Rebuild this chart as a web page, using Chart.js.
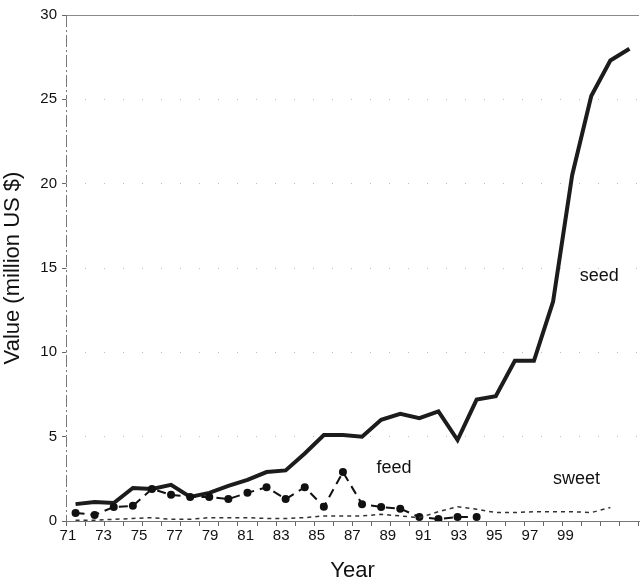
<!DOCTYPE html>
<html>
<head>
<meta charset="utf-8">
<script src="https://cdn.jsdelivr.net/npm/chart.js@4"></script>
<style>
  html, body { margin: 0; padding: 0; background: #fff; }
  #wrap { width: 643px; height: 584px; }
</style>
</head>
<body>
<div id="wrap"><canvas id="chart" width="643" height="584"></canvas></div>
<script>
"use strict"
// categories: years 1971-2000
var years = ['71', '72', '73', '74', '75', '76', '77', '78', '79', '80',
    '81', '82', '83', '84', '85', '86', '87', '88', '89', '90',
    '91', '92', '93', '94', '95', '96', '97', '98', '99', '100'];
// series, million US $
var seed = [1.0, 1.13, 1.07, 1.96, 1.9, 2.14, 1.43, 1.67, 2.08, 2.44,
    2.9, 3.0, 4.0, 5.1, 5.1, 5.0, 6.0, 6.35, 6.1, 6.5,
    4.8, 7.2, 7.4, 9.5, 9.5, 13.0, 20.5, 25.2, 27.3, 28.0];
var feed = [0.48, 0.36, 0.83, 0.9, 1.9, 1.55, 1.43, 1.43, 1.3, 1.67,
    2.0, 1.3, 2.0, 0.85, 2.9, 1.0, 0.83, 0.73, 0.24, 0.12,
    0.24, 0.24];
var sweet = [0.05, 0.05, 0.1, 0.15, 0.2, 0.1, 0.1, 0.2, 0.2, 0.2,
    0.15, 0.15, 0.2, 0.3, 0.3, 0.3, 0.4, 0.3, 0.2, 0.55,
    0.85, 0.7, 0.5, 0.5, 0.55, 0.55, 0.55, 0.5, 0.8];
// tick labels
var yearLabels = [71, 73, 75, 77, 79, 81, 83, 85, 87, 89, 91, 93, 95, 97, 99];
var valueTicks = [0, 5, 10, 15, 20, 25, 30];
// in-chart labels (category index, value)
var notes = [
    { text: 'seed', x: 26.4, y: 14.5 },
    { text: 'feed', x: 15.75, y: 3.15 },
    { text: 'sweet', x: 25.0, y: 2.5 }
];

var FONT = '"Liberation Sans", Arial, Helvetica, sans-serif';

var notesPlugin = {
    id: 'notes',
    beforeDraw: function(chart) {
        var ctx = chart.ctx, a = chart.chartArea;
        ctx.save();
        // frame line at 30
        ctx.strokeStyle = '#8a8a8a';
        ctx.lineWidth = 1;
        ctx.beginPath();
        var yTop = Math.round(chart.scales.y.getPixelForValue(30)) + 0.5;
        ctx.moveTo(a.left, yTop);
        ctx.lineTo(a.right, yTop);
        ctx.stroke();
        // dashed y axis line
        ctx.setLineDash([12, 3, 2, 3]);
        ctx.strokeStyle = '#777';
        ctx.beginPath();
        ctx.moveTo(a.left + 0.5, a.top);
        ctx.lineTo(a.left + 0.5, a.bottom);
        ctx.stroke();
        ctx.restore();
    },
    afterDatasetsDraw: function(chart) {
        var ctx = chart.ctx;
        var xs = chart.scales.x, ys = chart.scales.y;
        ctx.save();
        ctx.fillStyle = '#111';
        ctx.font = '18px ' + FONT;
        ctx.textAlign = 'left';
        ctx.textBaseline = 'middle';
        notes.forEach(function(n) {
            ctx.fillText(n.text, xs.getPixelForValue(n.x), ys.getPixelForValue(n.y));
        });
        ctx.restore();
    }
};

var ctx = document.getElementById('chart');
var chart = new Chart(ctx, {
    type: 'line',
    data: {
        labels: years,
        datasets: [{
            label: 'sweet',
            data: sweet,
            borderColor: '#333',
            borderWidth: 1.5,
            borderDash: [4, 4],
            pointRadius: 0,
            fill: false,
            tension: 0
        }, {
            label: 'feed',
            data: feed,
            borderColor: '#111',
            backgroundColor: '#111',
            borderWidth: 2,
            borderDash: [9, 6],
            pointRadius: 4,
            pointBorderWidth: 0,
            fill: false,
            tension: 0
        }, {
            label: 'seed',
            data: seed,
            borderColor: '#1c1c1c',
            borderWidth: 4,
            pointRadius: 0,
            fill: false,
            tension: 0
        }]
    },
    options: {
        responsive: false,
        animation: false,
        devicePixelRatio: 1,
        layout: { padding: { top: 15, right: 1, bottom: 0, left: 0 } },
        plugins: {
            legend: { display: false },
            tooltip: { enabled: false }
        },
        scales: {
            x: {
                type: 'category',
                position: 'bottom',
                offset: true,
                ticks: { display: false },
                grid: {
                    drawOnChartArea: false,
                    drawTicks: true,
                    tickLength: 5,
                    color: '#666',
                    offset: true
                },
                border: { display: true, color: '#777', width: 1 },
                afterFit: function(scale) { scale.height = 6; }
            },
            xLabels: {
                type: 'linear',
                position: 'bottom',
                min: 70.89,
                max: 103.14,
                grid: { display: false, drawTicks: false },
                border: { display: false },
                afterBuildTicks: function(scale) {
                    scale.ticks = yearLabels.map(function(v) { return { value: v }; });
                },
                ticks: {
                    autoSkip: false,
                    maxRotation: 0,
                    padding: 0,
                    color: '#111',
                    font: { family: FONT, size: 15 },
                    callback: function(v) { return String(v); }
                },
                title: {
                    display: true,
                    text: 'Year',
                    color: '#111',
                    font: { family: FONT, size: 22 },
                    padding: { top: 14, bottom: 0 }
                },
                afterFit: function(scale) { scale.height = 57; }
            },
            y: {
                min: 0,
                max: 30,
                afterBuildTicks: function(scale) {
                    scale.ticks = valueTicks.map(function(v) { return { value: v }; });
                },
                ticks: {
                    color: '#111',
                    padding: 5,
                    font: { family: FONT, size: 15 }
                },
                grid: {
                    color: function(c) {
                        return (c.tick && (c.tick.value === 0 || c.tick.value === 30)) ? 'rgba(0,0,0,0)' : '#bbb';
                    },
                    tickColor: '#666',
                    tickLength: 4,
                    lineWidth: 1
                },
                border: { display: false, dash: [1, 18] },
                title: {
                    display: true,
                    text: 'Value (million US $)',
                    color: '#111',
                    font: { family: FONT, size: 22 },
                    padding: { top: 0, bottom: 2 }
                },
                afterFit: function(scale) { scale.width = 66; }
            }
        }
    },
    plugins: [notesPlugin]
});
</script>
</body>
</html>
